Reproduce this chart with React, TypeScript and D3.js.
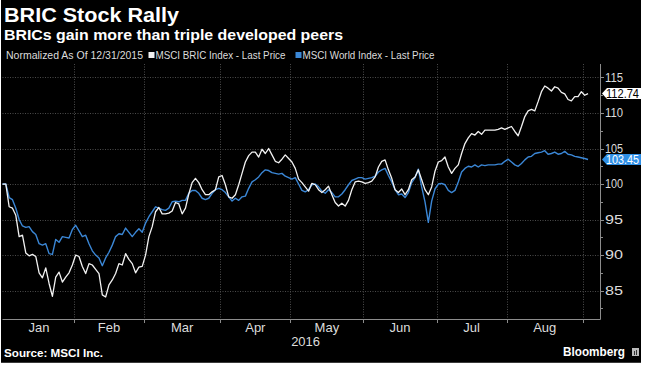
import React from "react";
import * as d3 from "d3";

// Bloomberg chart: BRIC vs World, normalized to 100 on 12/31/2015, daily (weekdays)
const startDate = new Date(2015, 11, 31);
const endDate = new Date(2016, 8, 3); // exclusive

const bricValues = [
  100, 100, 96.8, 96.6, 95.6, 92.6, 92.8, 90.3, 89.9, 90.1, 89.8, 87.5, 86.8, 88.2, 86.0, 84.2, 86.9, 87.6, 86.2, 86.9, 87.5, 88.6,
  90.0, 89.8, 88.4, 87.4, 88.8, 88.6, 88.0, 87.4, 84.4, 84.1, 85.8, 86.5, 87.4, 88.8, 88.6, 90.2, 89.4, 88.8, 87.5, 88.3, 88.4,
  90.0, 92.6, 94.0, 96.1, 96.7, 95.8, 95.8, 95.9, 96.2, 97.4, 97.2, 95.8, 96.6, 98.6, 100.2, 100.8, 100.2, 99.2, 98.5, 98.5, 98.9, 99.2, 101.0,
  101.2, 99.9, 98.2, 98.0, 98.5, 99.9, 101.5, 103.1, 104.0, 104.5, 104.5, 103.8, 104.9, 104.3, 105.0, 104.1, 103.2, 103.0, 103.5, 104.1, 103.6,
  103.1, 102.2, 100.7, 100.2, 99.6, 99.0, 100.1, 99.9, 99.2, 98.8, 99.2, 99.7, 98.5, 97.4, 96.9, 97.3, 96.9, 97.7, 99.2, 100.3, 100.4, 100.3,
  100.1, 100.2, 100.4, 101.0, 102.4, 103.2, 103.4, 102.0, 100.8, 99.2, 98.8, 99.3, 98.5, 99.2, 100.6, 101.0, 102.0, 100.6, 99.2, 98.5, 99.6, 101.8,
  103.1, 103.3, 103.8, 102.4, 101.5, 102.2, 102.7, 104.3, 105.7, 106.5, 107.1, 106.9, 107.4, 107.0, 107.6, 107.6, 107.6, 107.6, 107.7, 107.9, 107.7,
  107.9, 108.1, 107.4, 106.8, 108.1, 109.5, 110.3, 110.5, 110.3, 111.6, 113.0, 113.8, 113.5, 113.1, 113.7, 113.5, 112.9, 112.7, 111.9, 111.7, 112.3, 112.3, 113.0,
  112.5, 112.74,
];

const worldValues = [
  100, 100, 98.1, 97.8, 96.6, 95.0, 94.1, 93.9, 94.0, 93.3, 92.9, 91.6, 91.4, 91.6, 90.2, 90.1, 92.2, 91.8, 92.6, 92.5, 92.4, 93.6,
  94.2, 93.4, 92.6, 92.8, 91.6, 90.6, 90.0, 89.6, 88.5, 89.6, 90.4, 91.4, 92.6, 93.0, 92.9, 93.8, 93.2, 92.6, 93.2, 93.7, 93.2,
  94.5, 95.4, 96.1, 96.8, 96.6, 96.4, 96.3, 96.6, 97.5, 97.6, 97.5, 97.7, 97.7, 98.7, 99.1, 99.1, 98.7, 98.0, 97.8, 98.0, 98.7, 99.2, 99.4,
  99.2, 98.8, 98.2, 97.6, 98.0, 97.7, 98.2, 98.3, 99.4, 100.3, 100.6, 101.0, 101.6, 102.0, 101.9, 101.6, 101.5, 101.4, 101.5, 101.1, 100.9,
  100.7, 100.9, 100.0, 99.1, 98.9, 99.2, 99.9, 100.0, 99.6, 99.0, 98.7, 99.2, 98.8, 98.2, 98.2, 98.6, 99.2, 99.9, 100.5, 100.7, 100.9, 100.9,
  100.7, 100.8, 100.9, 101.1, 101.7, 102.0, 102.2, 101.2, 100.3, 99.2, 98.5, 98.6, 98.1, 98.8, 100.2, 100.9, 102.1, 99.6, 97.5, 94.6, 97.6, 99.3,
  100.0, 100.1, 99.9, 99.1, 98.8, 99.1, 100.3, 101.7, 102.2, 102.5, 102.4, 102.7, 102.4, 102.7, 102.6, 102.7, 102.7, 102.7, 102.8, 102.8, 103.2,
  103.5, 103.1, 102.7, 102.5, 102.9, 103.4, 103.8, 103.9, 104.3, 104.4, 104.5, 104.7, 104.2, 104.3, 104.5, 104.2, 104.3, 104.6, 104.2, 104.1, 103.9, 103.8,
  103.7, 103.6, 103.45,
];

const monthLabels = ["Jan", "Feb", "Mar", "Apr", "May", "Jun", "Jul", "Aug"];
const yearLabel = "2016";
const yTicks = [85, 90, 95, 100, 105, 110, 115];
const yMinorTicks = [82.5, 87.5, 92.5, 97.5, 102.5, 107.5, 112.5];

const WHITE = "#f2f2f2";
const BLUE = "#3b87d6";
const GRID = "#4a4a4a";
const AXIS = "#8c8c8c";
const LABEL = "#dcdcdc";
const narrow = "'Liberation Sans Narrow', 'Liberation Sans', Arial, sans-serif";
const sans = "'Liberation Sans', Arial, sans-serif";

export default function App() {
  const width = 646;
  const height = 369;
  const plotLeft = 2.5;
  const plotRight = 600;
  const plotTop = 64;
  const plotBottom = 319;

  // weekday calendar
  const dates = d3.timeDay
    .range(startDate, endDate)
    .filter((d) => d.getDay() !== 0 && d.getDay() !== 6);

  const x = d3.scaleLinear().domain([0, 179.6]).range([plotLeft, plotRight]);
  const y = d3.scaleLinear().domain([81, 116.9]).range([plotBottom, plotTop]);

  // month boundaries between last day of one month and first of the next
  const bounds: number[] = [];
  for (let i = 1; i < dates.length; i++) {
    if (dates[i].getMonth() !== dates[i - 1].getMonth()) bounds.push(i - 0.5);
  }
  // bounds[0] = Jan start, bounds[1] = Feb ... bounds[8] = Sep

  const line = d3
    .line<number>()
    .x((_, i) => x(i))
    .y((d) => y(d));

  const lastBric = bricValues[bricValues.length - 1];
  const lastWorld = worldValues[worldValues.length - 1];

  const tag = (v: number) => {
    const cy = y(v);
    const tip = plotRight + 2;
    return `M${tip},${cy} L${tip + 5},${cy - 5.5} L641,${cy - 5.5} L641,${cy + 5.5} L${tip + 5},${cy + 5.5} Z`;
  };

  return (
    <svg
      width={width}
      height={height}
      style={{ position: "absolute", left: 0, top: 0, display: "block", background: "#fff" }}
    >
      <rect x={1} y={0} width={640} height={362} fill="#000" />
      <line x1={1} x2={641} y1={362.5} y2={362.5} stroke="#3a3a3a" />

      {/* titles */}
      <text x={4} y={22} fill="#fff" fontFamily={sans} fontWeight="bold" fontSize={20} textLength={175} lengthAdjust="spacingAndGlyphs">
        BRIC Stock Rally
      </text>
      <text x={4} y={40} fill="#fff" fontFamily={sans} fontWeight="bold" fontSize={15} textLength={339} lengthAdjust="spacingAndGlyphs">
        BRICs gain more than triple developed peers
      </text>

      {/* legend */}
      <g fontFamily={narrow} fontSize={11} fill={LABEL}>
        <text x={6} y={59} textLength={137} lengthAdjust="spacingAndGlyphs">Normalized As Of 12/31/2015</text>
        <rect x={148.5} y={52} width={6} height={6} fill={WHITE} />
        <text x={155.5} y={59} textLength={130} lengthAdjust="spacingAndGlyphs">MSCI BRIC Index - Last Price</text>
        <rect x={295.5} y={52} width={6} height={6} fill={BLUE} />
        <text x={302.5} y={59} textLength={132} lengthAdjust="spacingAndGlyphs">MSCI World Index - Last Price</text>
      </g>

      {/* grid */}
      <g stroke={GRID} strokeWidth={1} strokeDasharray="1,1.5">
        {yTicks.map((t) => (
          <line key={t} x1={plotLeft} x2={plotRight} y1={Math.round(y(t)) + 0.5} y2={Math.round(y(t)) + 0.5} />
        ))}
        {bounds.slice(1).map((b) => (
          <line key={b} x1={Math.round(x(b)) + 0.5} x2={Math.round(x(b)) + 0.5} y1={plotTop} y2={plotBottom} />
        ))}
      </g>

      {/* axes */}
      <g stroke={AXIS} strokeWidth={1}>
        <line x1={plotLeft} x2={plotRight + 0.5} y1={plotBottom + 0.5} y2={plotBottom + 0.5} />
        <line x1={plotRight + 0.5} x2={plotRight + 0.5} y1={plotTop} y2={plotBottom + 0.5} />
        {bounds.slice(1).map((b) => (
          <line key={b} x1={Math.round(x(b)) + 0.5} x2={Math.round(x(b)) + 0.5} y1={plotBottom} y2={plotBottom + 4} />
        ))}
        {yTicks.map((t) => (
          <line key={t} x1={plotRight} x2={plotRight + 4} y1={Math.round(y(t)) + 0.5} y2={Math.round(y(t)) + 0.5} />
        ))}
        {yMinorTicks.map((t) => (
          <line key={t} x1={plotRight} x2={plotRight + 3} y1={Math.round(y(t)) + 0.5} y2={Math.round(y(t)) + 0.5} />
        ))}
      </g>

      {/* y labels */}
      <g fontFamily={narrow} fontSize={12} fill={LABEL}>
        {yTicks.map((t) => (
          <text key={t} x={plotRight + 5} y={y(t)} dy="0.36em" textLength={18} lengthAdjust="spacingAndGlyphs">
            {t}
          </text>
        ))}
      </g>

      {/* x labels */}
      <g fontFamily={narrow} fontSize={13} fill={LABEL} textAnchor="middle">
        {monthLabels.map((m, i) => (
          <text key={m} x={(x(bounds[i]) + x(bounds[i + 1])) / 2} y={332}>
            {m}
          </text>
        ))}
        <text x={(x(bounds[0]) + x(bounds[8])) / 2 + 12} y={346}>{yearLabel}</text>
      </g>

      {/* series */}
      <path d={line(worldValues) || ""} fill="none" stroke={BLUE} strokeWidth={1.4} strokeLinejoin="round" />
      <path d={line(bricValues) || ""} fill="none" stroke={WHITE} strokeWidth={1.3} strokeLinejoin="round" />

      {/* last value tags */}
      <path d={tag(lastBric)} fill="#fff" />
      <text x={606} y={y(lastBric)} dy="0.36em" fontFamily={narrow} fontSize={12} fill="#000" textLength={33} lengthAdjust="spacingAndGlyphs">
        {lastBric.toFixed(2)}
      </text>
      <path d={tag(lastWorld)} fill="#2f8fe6" />
      <text x={606} y={y(lastWorld)} dy="0.36em" fontFamily={narrow} fontSize={12} fill="#fff" textLength={33} lengthAdjust="spacingAndGlyphs">
        {lastWorld.toFixed(2)}
      </text>

      {/* footer */}
      <text x={4} y={357} fill="#fff" fontFamily={sans} fontWeight="bold" fontSize={11} textLength={99} lengthAdjust="spacingAndGlyphs">
        Source: MSCI Inc.
      </text>
      <text x={563} y={356} fill="#fff" fontFamily={sans} fontWeight="bold" fontSize={13} textLength={62} lengthAdjust="spacingAndGlyphs">
        Bloomberg
      </text>
      <rect x={632} y={348} width={7} height={8} fill="#bbb" />
      <rect x={634} y={351} width={1} height={4} fill="#333" />
      <rect x={636} y={350} width={1} height={5} fill="#333" />
    </svg>
  );
}
